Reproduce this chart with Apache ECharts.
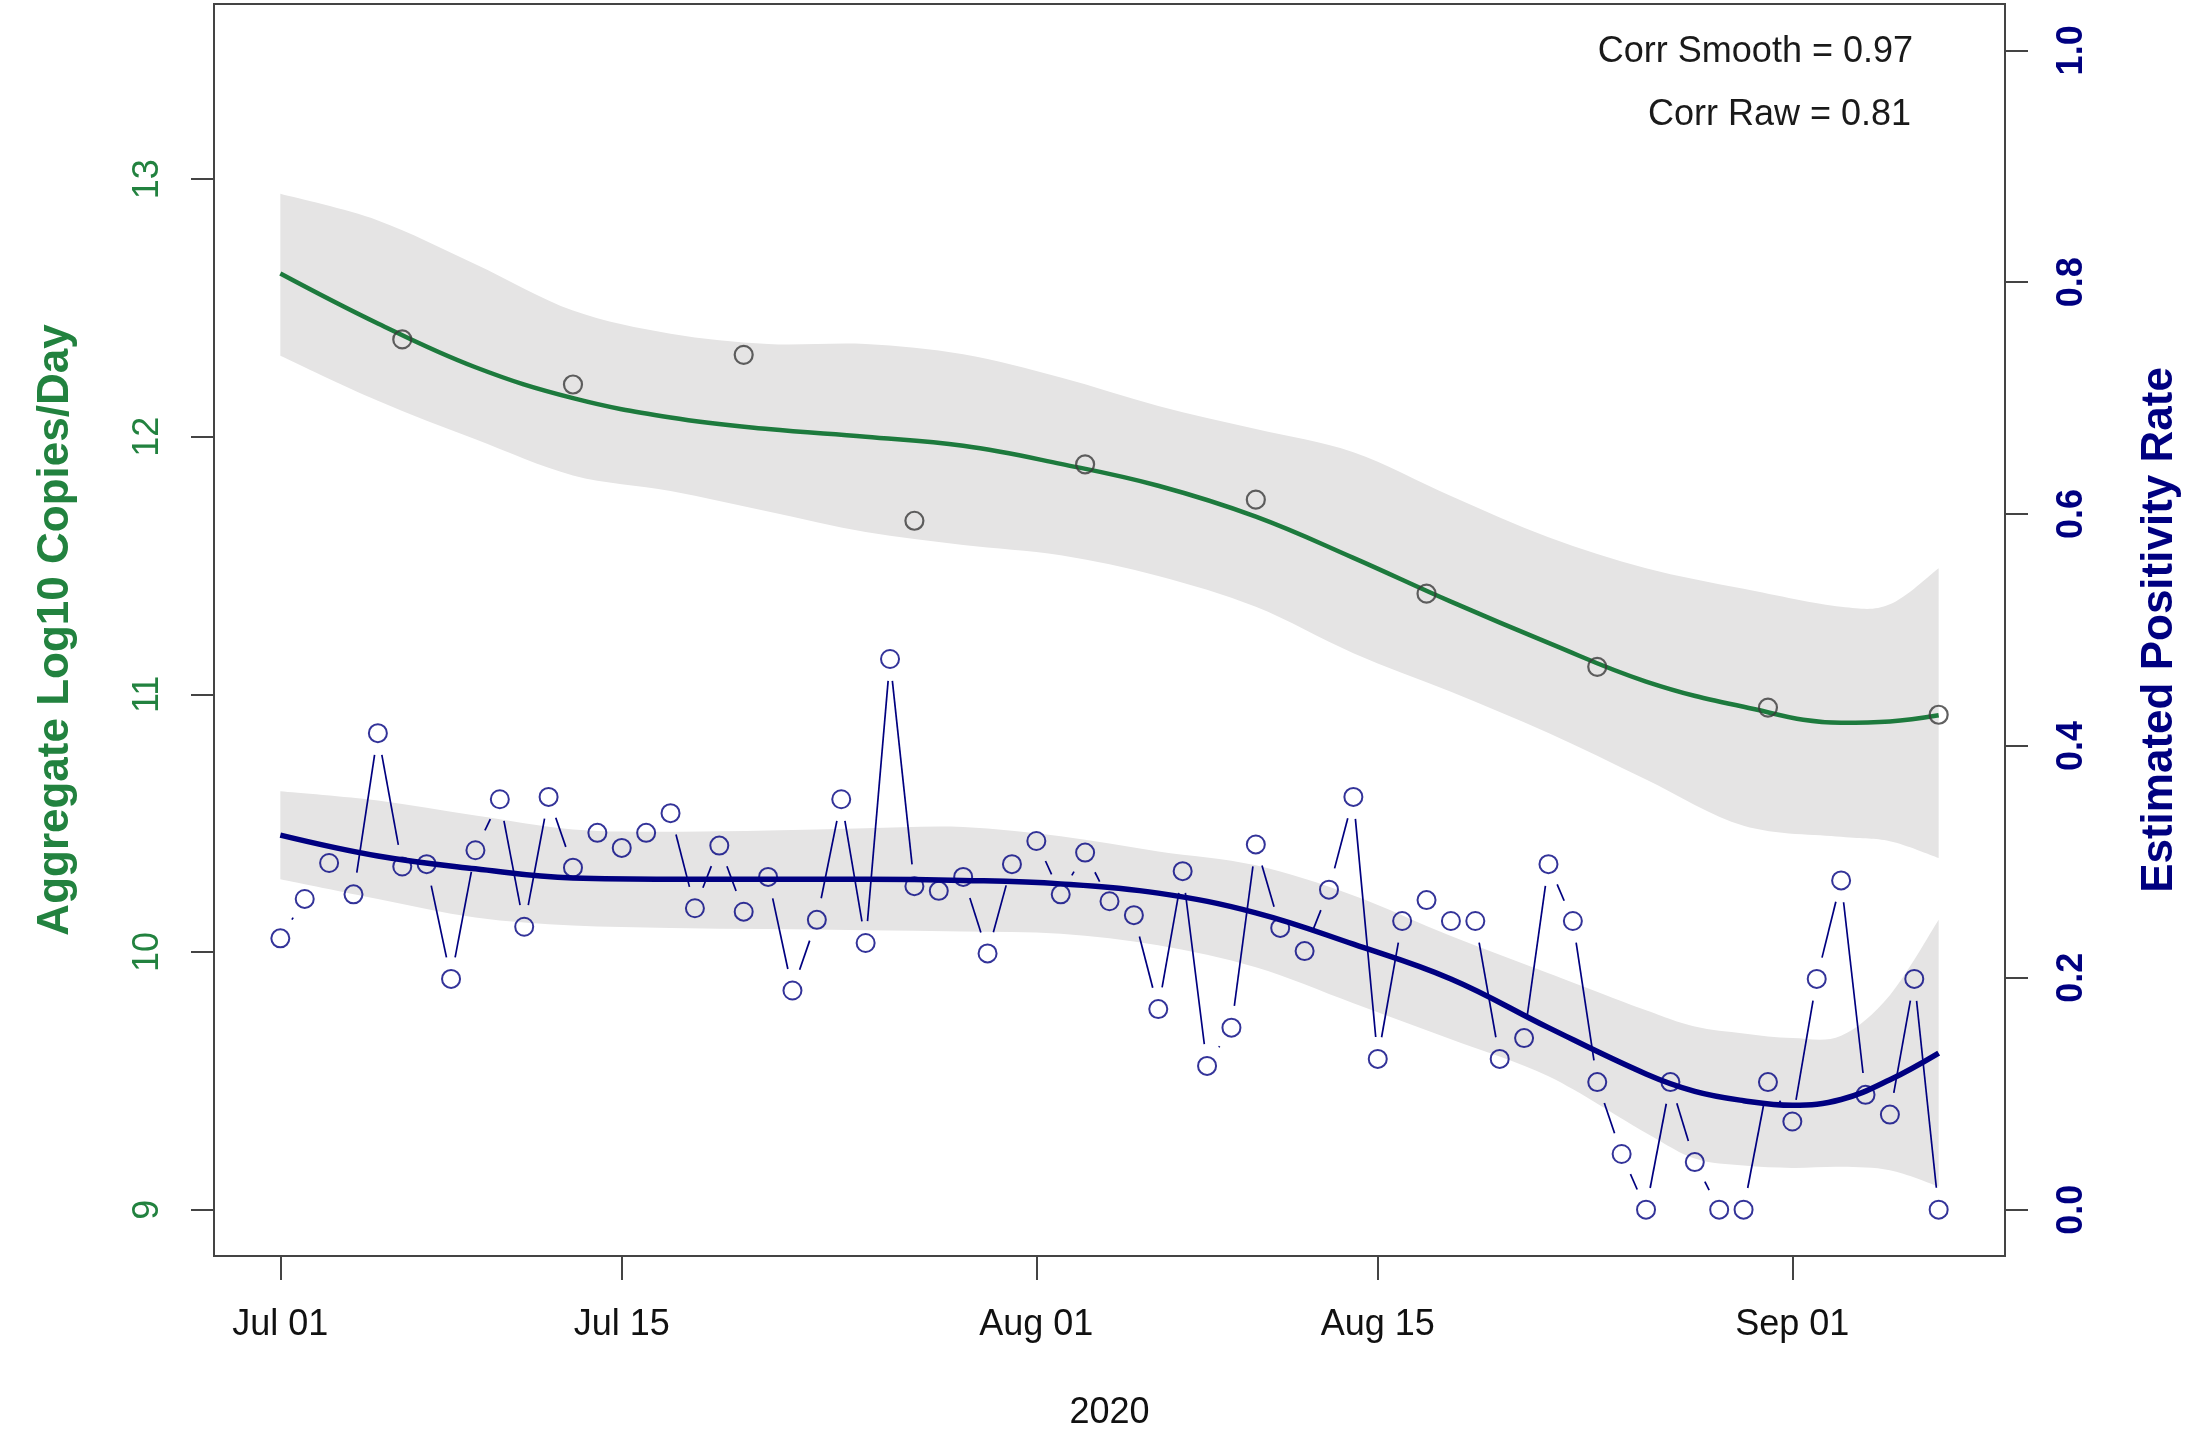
<!DOCTYPE html>
<html>
<head>
<meta charset="utf-8">
<script src="https://cdn.jsdelivr.net/npm/echarts@6/dist/echarts.min.js"></script>
<style>
html,body{margin:0;padding:0;background:#ffffff;}
#chart{width:2204px;height:1441px;}
</style>
</head>
<body>
<div id="chart"></div>
<script>
// ---- data (day index 0 = 2020-07-01) ----
const xTickDays = [0, 14, 31, 45, 62];
const xTickLabels = ['Jul 01', 'Jul 15', 'Aug 01', 'Aug 15', 'Sep 01'];
const leftTicks = [9, 10, 11, 12, 13];
const rightTicks = [0, 0.2, 0.4, 0.6, 0.8, 1.0];

// daily estimated positivity rate, Jul 01 .. Sep 07
const positivityRaw = [
  0.234, 0.268, 0.299, 0.272, 0.411, 0.296, 0.298, 0.199, 0.310, 0.354,
  0.244, 0.356, 0.295, 0.325, 0.312, 0.325, 0.342, 0.260, 0.314, 0.257,
  0.287, 0.189, 0.250, 0.354, 0.230, 0.475, 0.279, 0.275, 0.287, 0.221,
  0.298, 0.318, 0.272, 0.308, 0.266, 0.254, 0.173, 0.292, 0.124, 0.157,
  0.315, 0.243, 0.223, 0.276, 0.356, 0.130, 0.249, 0.267, 0.249, 0.249,
  0.130, 0.148, 0.298, 0.249, 0.110, 0.048, 0.000, 0.110, 0.041, 0.000,
  0.000, 0.110, 0.076, 0.199, 0.284, 0.099, 0.082, 0.199, 0.000
];

// weekly aggregate log10 copies/day
const copiesDays = [5, 12, 19, 26, 33, 40, 47, 54, 61, 68];
const copiesLog10 = [12.378, 12.203, 12.318, 11.674, 11.893, 11.756, 11.391, 11.107, 10.949, 10.921];

// smoothed copies curve and its confidence band
const copiesFitDays = [0, 4, 8, 12, 16, 20, 24, 28, 32, 36, 40, 44, 48, 52, 56, 60, 64, 66, 68];
const copiesFit   = [12.634, 12.44, 12.27, 12.15, 12.075, 12.03, 12.00, 11.965, 11.895, 11.81, 11.69, 11.53, 11.36, 11.20, 11.05, 10.952, 10.89, 10.895, 10.919];
const copiesUpper = [12.943, 12.84, 12.67, 12.49, 12.40, 12.36, 12.36, 12.32, 12.23, 12.12, 12.03, 11.94, 11.77, 11.61, 11.49, 11.41, 11.34, 11.35, 11.49];
const copiesLower = [12.315, 12.14, 11.99, 11.85, 11.79, 11.71, 11.63, 11.58, 11.54, 11.46, 11.34, 11.16, 11.01, 10.85, 10.67, 10.49, 10.447, 10.43, 10.365];

// smoothed positivity curve and its confidence band
const posFitDays = [0, 4, 8, 12, 16, 20, 24, 28, 32, 36, 40, 44, 48, 52, 56, 58, 60, 62, 64, 66, 68];
const posFit   = [0.323, 0.305, 0.294, 0.286, 0.285, 0.285, 0.285, 0.284, 0.281, 0.273, 0.256, 0.229, 0.199, 0.157, 0.117, 0.102, 0.094, 0.090, 0.095, 0.112, 0.135];
const posUpper = [0.361, 0.353, 0.340, 0.328, 0.326, 0.327, 0.329, 0.330, 0.322, 0.309, 0.297, 0.271, 0.236, 0.204, 0.172, 0.158, 0.152, 0.148, 0.150, 0.185, 0.250];
const posLower = [0.285, 0.268, 0.252, 0.245, 0.243, 0.242, 0.241, 0.240, 0.238, 0.228, 0.209, 0.178, 0.147, 0.115, 0.066, 0.044, 0.038, 0.036, 0.037, 0.034, 0.020];

const corrTexts = ['Corr Smooth = 0.97', 'Corr Raw = 0.81'];

// ---- styles ----
const FONT = '"Liberation Sans", Arial, Helvetica, sans-serif';
const GREEN_LINE = '#1d7a3d';
const GREEN_TEXT = '#22823f';
const NAVY = '#000080';
const BAND = '#e5e4e4';
const AXIS = '#444444';
const GAP = 22;

const pairs = (xs, ys) => xs.map((x, i) => [x, ys[i]]);
const rawPoints = positivityRaw.map((v, i) => [i, v]);
const rawSegments = positivityRaw.slice(0, -1).map((v, i) => [i, v, i + 1, positivityRaw[i + 1]]);

// Catmull-Rom spline through pixel points -> SVG path commands
function splinePath(pts, moveFirst) {
  let d = (moveFirst ? 'M' : 'L') + pts[0][0].toFixed(2) + ' ' + pts[0][1].toFixed(2);
  for (let i = 0; i < pts.length - 1; i++) {
    const p0 = pts[Math.max(0, i - 1)], p1 = pts[i], p2 = pts[i + 1], p3 = pts[Math.min(pts.length - 1, i + 2)];
    const c1x = p1[0] + (p2[0] - p0[0]) / 6, c1y = p1[1] + (p2[1] - p0[1]) / 6;
    const c2x = p2[0] - (p3[0] - p1[0]) / 6, c2y = p2[1] - (p3[1] - p1[1]) / 6;
    d += ' C' + c1x.toFixed(2) + ' ' + c1y.toFixed(2) + ' ' + c2x.toFixed(2) + ' ' + c2y.toFixed(2) + ' ' + p2[0].toFixed(2) + ' ' + p2[1].toFixed(2);
  }
  return d;
}

function bandSeries(name, yAxisIndex, days, upper, lower) {
  return {
    type: 'custom', name: name, xAxisIndex: 0, yAxisIndex: yAxisIndex, silent: true, z: 1,
    data: days.map((x, i) => [x, lower[i], upper[i]]),
    encode: {x: 0, y: [1, 2]},
    renderItem: function (params, api) {
      if (params.dataIndex !== 0) return {type: 'group', children: []};
      const up = days.map((x, i) => api.coord([x, upper[i]]));
      const lo = days.map((x, i) => api.coord([x, lower[i]])).reverse();
      const d = splinePath(up, true) + ' ' + splinePath(lo, false) + ' Z';
      return {type: 'path', shape: {pathData: d}, style: {fill: BAND, stroke: null}};
    }
  };
}

const chart = echarts.init(document.getElementById('chart'), null, {renderer: 'canvas'});

chart.setOption({
  animation: false,
  backgroundColor: '#ffffff',
  textStyle: {fontFamily: FONT},
  grid: {
    left: 214, right: 199, top: 4, bottom: 185,
    show: true, borderColor: AXIS, borderWidth: 2, backgroundColor: 'transparent',
    outerBoundsMode: 'none'
  },
  xAxis: {
    type: 'value', min: -2.72, max: 70.72, position: 'bottom',
    name: '2020', nameLocation: 'middle', nameGap: 139,
    nameTextStyle: {fontSize: 36, color: '#111', fontFamily: FONT},
    axisLine: {show: false, onZero: false},
    splitLine: {show: false},
    axisTick: {show: true, length: 24, inside: false, customValues: xTickDays, lineStyle: {color: AXIS, width: 2}},
    axisLabel: {
      customValues: xTickDays, margin: 51, fontSize: 36, color: '#111', fontFamily: FONT,
      formatter: v => { const k = xTickDays.indexOf(Math.round(v)); return k >= 0 ? xTickLabels[k] : ''; }
    }
  },
  yAxis: [
    {
      type: 'value', min: 8.82, max: 13.68, position: 'left',
      name: 'Aggregate Log10 Copies/Day', nameLocation: 'middle', nameRotate: 90, nameGap: 136,
      nameTextStyle: {fontSize: 44, fontWeight: 'bold', color: GREEN_TEXT, fontFamily: FONT},
      axisLine: {show: false, onZero: false}, splitLine: {show: false},
      axisTick: {show: true, length: 23, customValues: leftTicks, lineStyle: {color: AXIS, width: 2}},
      axisLabel: {customValues: leftTicks, rotate: 90, margin: 48, fontSize: 36, color: GREEN_TEXT, fontFamily: FONT}
    },
    {
      type: 'value', min: -0.04, max: 1.04, position: 'right',
      name: 'Estimated Positivity Rate', nameLocation: 'middle', nameRotate: 90, nameGap: 133,
      nameTextStyle: {fontSize: 44, fontWeight: 'bold', color: NAVY, fontFamily: FONT},
      axisLine: {show: false, onZero: false}, splitLine: {show: false},
      axisTick: {show: true, length: 23, customValues: rightTicks, lineStyle: {color: AXIS, width: 2}},
      axisLabel: {customValues: rightTicks, rotate: 90, margin: 49, fontSize: 36, fontWeight: 'bold', color: NAVY, fontFamily: FONT,
        formatter: v => Number(v).toFixed(1)}
    }
  ],
  graphic: [
    {type: 'text', right: 291, top: 34, z: 100,
     style: {text: corrTexts[0], font: '36px ' + FONT, fill: '#1a1a1a', textAlign: 'right'}},
    {type: 'text', right: 293, top: 97, z: 100,
     style: {text: corrTexts[1], font: '36px ' + FONT, fill: '#1a1a1a', textAlign: 'right'}}
  ],
  series: [
    bandSeries('copiesBand', 0, copiesFitDays, copiesUpper, copiesLower),
    bandSeries('posBand', 1, posFitDays, posUpper, posLower),
    // raw positivity line segments with gaps (R type "b")
    {type: 'custom', name: 'posSegments', xAxisIndex: 0, yAxisIndex: 1, data: rawSegments,
     encode: {x: [0, 2], y: [1, 3]}, silent: true, z: 3,
     renderItem: function (params, api) {
       const a = api.coord([api.value(0), api.value(1)]);
       const b = api.coord([api.value(2), api.value(3)]);
       const dx = b[0] - a[0], dy = b[1] - a[1];
       const len = Math.sqrt(dx * dx + dy * dy);
       if (len <= 2 * GAP) return {type: 'group', children: []};
       const ux = dx / len, uy = dy / len;
       return {type: 'line',
         shape: {x1: a[0] + ux * GAP, y1: a[1] + uy * GAP, x2: b[0] - ux * GAP, y2: b[1] - uy * GAP},
         style: {stroke: NAVY, lineWidth: 1.7}};
     }},
    // smoothed curves
    {type: 'line', name: 'copiesFit', xAxisIndex: 0, yAxisIndex: 0, smooth: 0.4,
     data: pairs(copiesFitDays, copiesFit), showSymbol: false, symbol: 'none',
     lineStyle: {color: GREEN_LINE, width: 4.5}, silent: true, z: 4},
    {type: 'line', name: 'posFit', xAxisIndex: 0, yAxisIndex: 1, smooth: 0.4,
     data: pairs(posFitDays, posFit), showSymbol: false, symbol: 'none',
     lineStyle: {color: NAVY, width: 5.5}, silent: true, z: 4},
    // raw points
    {type: 'scatter', name: 'posRaw', xAxisIndex: 0, yAxisIndex: 1, data: rawPoints,
     symbol: 'circle', symbolSize: 18,
     itemStyle: {color: 'rgba(0,0,0,0)', borderColor: NAVY, borderWidth: 2}, silent: true, z: 5},
    {type: 'scatter', name: 'copiesRaw', xAxisIndex: 0, yAxisIndex: 0, data: pairs(copiesDays, copiesLog10),
     symbol: 'circle', symbolSize: 18,
     itemStyle: {color: 'rgba(0,0,0,0)', borderColor: '#3a3a3a', borderWidth: 2.2}, silent: true, z: 5}
  ]
});
</script>
</body>
</html>
